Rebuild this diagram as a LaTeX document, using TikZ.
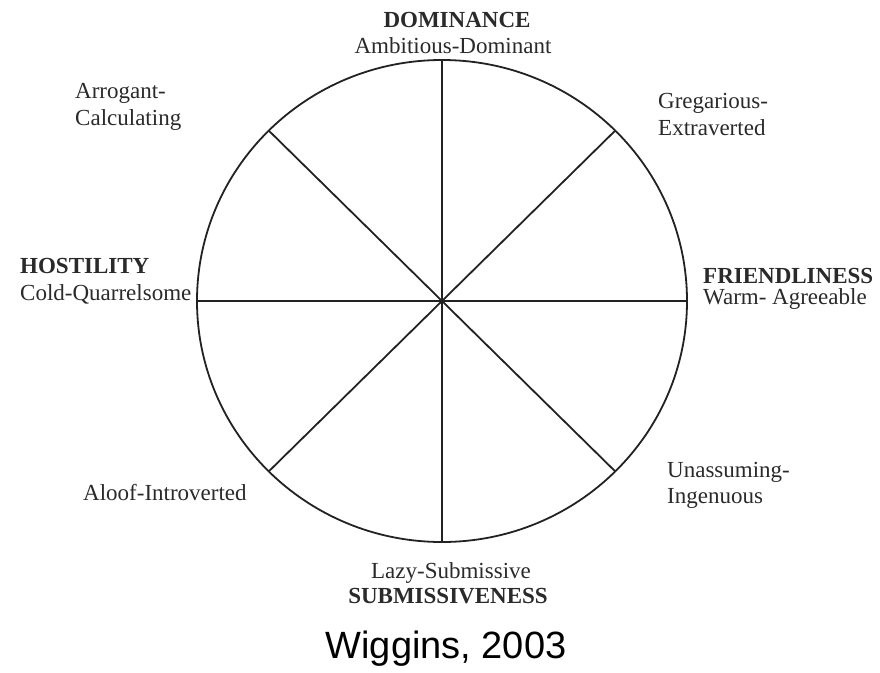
\documentclass[tikz,border=0pt]{standalone}
\usepackage{fontspec}
\setmainfont{Liberation Serif}
\newfontfamily\captionfont{Liberation Sans}
\usepackage{tikz}
\usetikzlibrary{positioning, calc}
\definecolor{inkgray}{HTML}{222222}
\definecolor{textgray}{HTML}{2A2A2A}

\begin{document}
\begin{tikzpicture}[
  x=1pt, y=-1pt,
  rim/.style={draw=inkgray, line width=1.8pt},
  spoke/.style={draw=inkgray, line width=1.8pt},
  axislbl/.style={font=\fontsize{23}{27}\selectfont\bfseries, text=textgray, inner sep=0pt},
  traitlbl/.style={font=\fontsize{23}{27}\selectfont, text=textgray, inner sep=0pt},
  sourcelbl/.style={font=\fontsize{38}{44}\captionfont, text=black, inner sep=0pt},
]
\useasboundingbox (0,0) rectangle (880,672);

% circle and centre
\coordinate (c) at (442,301);
\draw[rim] (c) ellipse [x radius=245, y radius=241];

% rim points
\foreach \ang/\nm in {0/e, 45/ne, 90/n, 135/nw, 180/w, 225/sw, 270/s, 315/se}
  \coordinate (\nm) at ($(c)+({245*cos(\ang)},{-241*sin(\ang)})$);

% spokes
\draw[spoke] (n) -- (s);
\draw[spoke] (w) -- (e);
\draw[spoke] (nw) -- (se);
\draw[spoke] (ne) -- (sw);

% axis labels
\node[axislbl, anchor=base] (dom) at (457,27) {DOMINANCE};
\node[traitlbl, anchor=base] (ambitious) at (453,53) {Ambitious-Dominant};

\node[axislbl, anchor=base west] (host) at (20,273) {HOSTILITY};
\node[traitlbl, anchor=base west] (cold) at (20,300) {Cold-Quarrelsome};

\node[axislbl, anchor=base west] (friend) at (703,283) {FRIENDLINESS};
\node[traitlbl, anchor=base west] (warm) at (703,304) {Warm- Agreeable};

\node[traitlbl, anchor=base] (lazy) at (451,578) {Lazy-Submissive};
\node[axislbl, anchor=base] (sub) at (448,603) {SUBMISSIVENESS};

% octant labels
\node[traitlbl, anchor=base west] (arrogant) at (75,98) {Arrogant-};
\node[traitlbl, anchor=base west] (calculating) at (75,125) {Calculating};

\node[traitlbl, anchor=base west] (gregarious) at (658,108) {Gregarious-};
\node[traitlbl, anchor=base west] (extraverted) at (658,135) {Extraverted};

\node[traitlbl, anchor=base west] (aloof) at (83,500) {Aloof-Introverted};

\node[traitlbl, anchor=base west] (unassuming) at (667,477) {Unassuming-};
\node[traitlbl, anchor=base west] (ingenuous) at (667,503) {Ingenuous};

% source
\node[sourcelbl, anchor=base] (source) at (446,658) {Wiggins, 2003};

\end{tikzpicture}
\end{document}
